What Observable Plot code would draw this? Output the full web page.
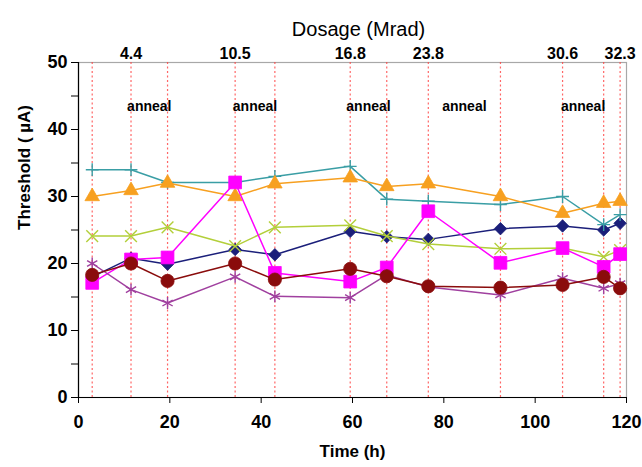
<!DOCTYPE html>
<html>
<head>
<meta charset="utf-8">
<script src="https://cdn.jsdelivr.net/npm/d3@7"></script>
<script src="https://cdn.jsdelivr.net/npm/@observablehq/plot@0.6"></script>
<style>
  html, body { margin: 0; padding: 0; background: #fff; }
  svg { display: block; }
</style>
</head>
<body>
<div id="chart"></div>
<script>
// Measurement times (h) – the dashed red lines
const times = [3, 11.5, 19.5, 34.3, 43, 59.5, 67.5, 76.6, 92.4, 106, 115, 118.6];

// Dosage labels on the top axis and the times they sit at
const doseTimes = [11.5, 34.3, 59.5, 76.6, 106, 118.6];
const doseLabels = ["4.4", "10.5", "16.8", "23.8", "30.6", "32.3"];

// Annealing periods (start, end) in h
const annealStart = [11.5, 34.3, 59.5, 76.6, 106];
const annealEnd = [19.5, 43, 67.5, 92.4, 115];

// Threshold series (µA)
const navy    = [18.0, 20.8, 19.9, 22.1, 21.3, 24.8, 24.0, 23.6, 25.2, 25.6, 25.0, 26.0];
const teal    = [34.0, 34.0, 32.1, 32.1, 33.0, 34.5, 29.6, 29.3, 28.8, 30.0, 25.8, 27.3];
const yellow  = [24.1, 24.1, 25.4, 22.6, 25.4, 25.7, 24.1, 22.9, 22.2, 22.3, 21.0, 22.0];
const orange  = [30.0, 30.9, 32.0, 30.0, 31.9, 32.8, 31.5, 31.9, 30.0, 27.5, 29.0, 29.3];
const magenta = [17.1, 20.6, 20.9, 32.1, 18.6, 17.3, 19.4, 27.8, 20.1, 22.3, 19.5, 21.4];
const purple  = [20.0, 16.1, 14.1, 18.0, 15.1, 14.9, 18.3, 16.5, 15.3, 17.8, 16.3, 17.0];
const darkred = [18.3, 20.0, 17.4, 20.0, 17.6, 19.2, 18.1, 16.6, 16.4, 16.8, 18.0, 16.3];

const seriesList = [
  {values: navy,    color: "#1b1f7a", symbol: "diamond2", filled: true,  r: 5.6},
  {values: teal,    color: "#3a9ea5", symbol: "plus",     filled: false, r: 4.2},
  {values: yellow,  color: "#b3cf3a", symbol: "times",    filled: false, r: 5.4},
  {values: orange,  color: "#f7a020", symbol: "triangle", filled: true,  r: 5.4},
  {values: magenta, color: "#ff00ff", symbol: "square",   filled: true,  r: 7.2},
  {values: purple,  color: "#a0409f", symbol: "asterisk", filled: false, r: 5.6},
  {values: darkred, color: "#8a0c0c", symbol: "circle",   filled: true,  r: 6.6}
];

const doseMap = new Map(doseTimes.map((t, i) => [t, doseLabels[i]]));
const annealRows = annealStart.map((s, i) => ({t: (s + annealEnd[i]) / 2}));

const font = "'Liberation Sans', Arial, sans-serif";

const marks = [
  Plot.frame({stroke: "#a8a8a8", strokeWidth: 1.2}),
  Plot.ruleX(times, {stroke: "#ff4040", strokeWidth: 1.2, strokeDasharray: "2,2.5", strokeOpacity: 0.8}),
  Plot.ruleX([0], {stroke: "#000", strokeWidth: 1.2}),
  Plot.ruleY([0], {stroke: "#000", strokeWidth: 1.2}),
  Plot.axisY({ticks: d3.range(0, 51, 5), tickFormat: d => d % 10 === 0 ? d : "", tickSize: 7, tickPadding: 4,
    fontSize: 18, fontWeight: "bold", label: null, stroke: "#000"}),
  Plot.axisX({anchor: "bottom", ticks: d3.range(0, 121, 20), tickSize: 6, tickPadding: 12,
    fontSize: 18, fontWeight: "bold", label: null}),
  Plot.axisX({anchor: "top", ticks: doseTimes, tickFormat: d => doseMap.get(d), tickSize: 0, tickPadding: 4,
    fontSize: 16, fontWeight: "bold", label: null}),
  Plot.text(annealRows, {x: "t", frameAnchor: "top", dy: 39, text: () => "anneal",
    fontSize: 14, fontWeight: "bold", fill: "#000"}),
  Plot.text(["Dosage (Mrad)"], {frameAnchor: "top", dx: 6, dy: -41, text: d => d, fontSize: 20, fill: "#000"}),
  Plot.text(["Time (h)"], {frameAnchor: "bottom", dy: 59, text: d => d, fontSize: 17, fontWeight: "bold", fill: "#000"}),
  Plot.text(["Threshold ( \u00b5A)"], {frameAnchor: "left", rotate: -90, dx: -54, text: d => d,
    fontSize: 17, fontWeight: "bold", fill: "#000"})
];

for (const s of seriesList) {
  const rows = times.map((t, i) => ({t, v: s.values[i]}));
  marks.push(Plot.line(rows, {x: "t", y: "v", stroke: s.color, strokeWidth: 1.5}));
  if (s.filled) {
    marks.push(Plot.dot(rows, {x: "t", y: "v", symbol: s.symbol, r: s.r, fill: s.color, stroke: s.color, strokeWidth: 0.8}));
  } else {
    marks.push(Plot.dot(rows, {x: "t", y: "v", symbol: s.symbol, r: s.r, stroke: s.color, strokeWidth: 1.4, fill: "none"}));
  }
}

const chart = Plot.plot({
  width: 642,
  height: 467,
  marginTop: 62,
  marginBottom: 70,
  marginLeft: 78,
  marginRight: 16,
  style: {fontFamily: font, color: "#000", background: "#fff"},
  x: {domain: [0, 120]},
  y: {domain: [0, 50]},
  marks
});
document.getElementById("chart").appendChild(chart);
</script>
</body>
</html>
